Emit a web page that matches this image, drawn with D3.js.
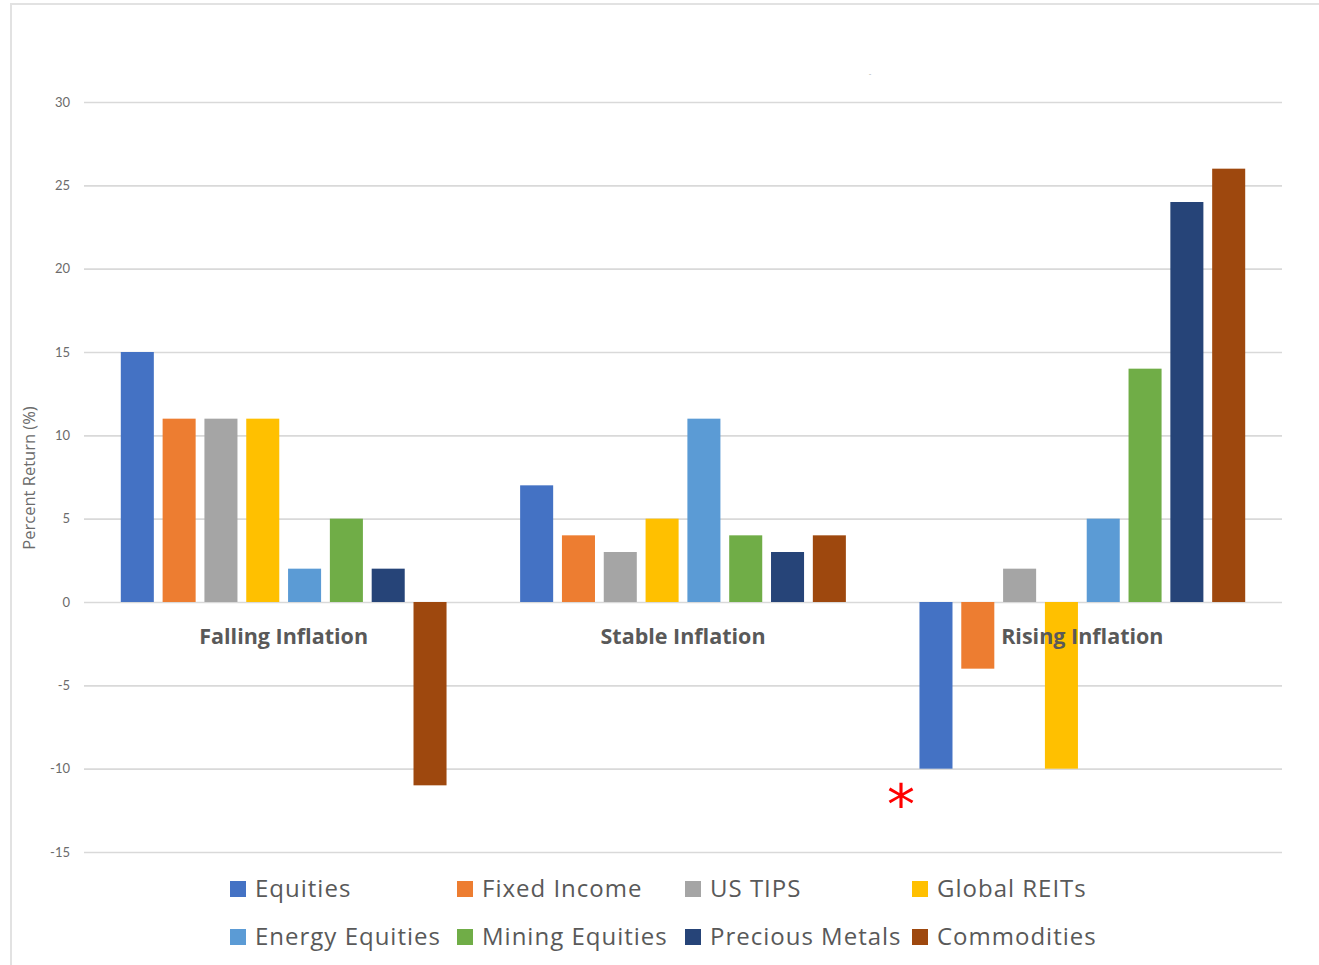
<!DOCTYPE html>
<html>
<head>
<meta charset="utf-8">
<script src="https://cdn.jsdelivr.net/npm/d3@7/dist/d3.min.js"></script>
<style>
  html, body { margin: 0; padding: 0; background: #fff; }
  svg { display: block; }
  text { font-family: "Open Sans", Lato, sans-serif; }
</style>
</head>
<body>
<svg id="chart" width="1319" height="965"></svg>
<script>
// Inflation regimes along the x axis
const regimes = ["Falling Inflation", "Stable Inflation", "Rising Inflation"];

// Asset classes, one bar per regime each
const assets = ["Equities", "Fixed Income", "US TIPS", "Global REITs",
                "Energy Equities", "Mining Equities", "Precious Metals", "Commodities"];
const assetColors = ["#4472C4", "#ED7D31", "#A5A5A5", "#FFC000",
                     "#5B9BD5", "#70AD47", "#264478", "#9E480E"];

// Percent return of each asset class, ordered by regime
const equities       = [15,  7, -10];
const fixedIncome    = [11,  4,  -4];
const usTips         = [11,  3,   2];
const globalReits    = [11,  5, -10];
const energyEquities = [ 2, 11,   5];
const miningEquities = [ 5,  4,  14];
const preciousMetals = [ 2,  3,  24];
const commodities    = [-11, 4,  26];

const yTicks = [30, 25, 20, 15, 10, 5, 0, -5, -10, -15];

const seriesValues = [equities, fixedIncome, usTips, globalReits,
                      energyEquities, miningEquities, preciousMetals, commodities];

const svg = d3.select("#chart");

// Outer frame (top and left edges)
svg.append("line").attr("x1", 10).attr("x2", 1319).attr("y1", 4).attr("y2", 4)
  .attr("stroke", "#e2e2e2").attr("stroke-width", 2);
svg.append("line").attr("x1", 11).attr("x2", 11).attr("y1", 3).attr("y2", 965)
  .attr("stroke", "#e2e2e2").attr("stroke-width", 2);

const plot = { left: 83, right: 1281, top: 102, bottom: 852 };

const y = d3.scaleLinear().domain([-15, 30]).range([plot.bottom, plot.top]);
const x0 = d3.scaleBand().domain(regimes).range([plot.left, plot.right])
  .paddingInner(0).paddingOuter(0);
const x1 = d3.scaleBand().domain(assets).range([0, x0.bandwidth()])
  .paddingInner(0.21).paddingOuter(0.88);
const color = d3.scaleOrdinal().domain(assets).range(assetColors);

// Horizontal gridlines and value labels
const yAxis = d3.axisLeft(y).tickValues(yTicks)
  .tickSize(-(plot.right - plot.left)).tickPadding(14).tickFormat(d => String(d));
const gy = svg.append("g").attr("transform", `translate(${plot.left + 1},0)`).call(yAxis);
gy.select(".domain").remove();
gy.selectAll(".tick line").attr("stroke", "#d9d9d9").attr("stroke-width", 1.6);
gy.selectAll(".tick text").style("fill", "#6b6b6b").style("font-size", "13px")
  .style("font-family", "Lato, 'Open Sans', sans-serif");

// Axis title
svg.append("text")
  .attr("transform", "translate(35,478) rotate(-90)")
  .attr("text-anchor", "middle")
  .style("font-size", "16.5px")
  .style("fill", "#6b6b6b")
  .text("Percent Return (%)");

// Bars
const rows = [];
regimes.forEach((r, i) => {
  assets.forEach((a, j) => rows.push({ regime: r, asset: a, value: seriesValues[j][i] }));
});

svg.append("g").attr("transform", "translate(1,0)")
  .selectAll("rect").data(rows).join("rect")
  .attr("x", d => x0(d.regime) + x1(d.asset))
  .attr("width", x1.bandwidth())
  .attr("y", d => y(Math.max(0, d.value)))
  .attr("height", d => Math.abs(y(d.value) - y(0)))
  .attr("fill", d => color(d.asset));

// Regime labels just below the zero line
svg.append("g").selectAll("text").data(regimes).join("text")
  .attr("x", d => x0(d) + x0.bandwidth() / 2 + 1)
  .attr("y", y(0) + 42)
  .attr("text-anchor", "middle")
  .style("font-size", "21.5px")
  .style("font-weight", "bold")
  .style("fill", "#595959")
  .text(d => d);

// Small mark above the plot
svg.append("text").attr("x", 870).attr("y", 76).attr("text-anchor", "middle")
  .style("font-size", "8px").style("fill", "#aaa").text("-");

// Red asterisk beneath the Rising Inflation equities bar
svg.append("text").attr("x", 901).attr("y", 824).attr("text-anchor", "middle")
  .style("font-size", "56px").style("font-family", "'DejaVu Sans', sans-serif")
  .style("fill", "#ff0000").text("*");

// Legend: two rows of four
const legendCols = [230, 457, 685, 912];
const legendRows = [889, 937];
const legend = svg.append("g").selectAll("g").data(assets).join("g")
  .attr("transform", (d, i) => `translate(${legendCols[i % 4]},${legendRows[Math.floor(i / 4)]})`);
legend.append("rect").attr("x", 0).attr("y", -8).attr("width", 16).attr("height", 16)
  .attr("fill", d => color(d));
legend.append("text").attr("x", 25).attr("y", 0).attr("dy", "0.35em")
  .style("font-size", "24px").style("letter-spacing", "1px")
  .style("fill", "#595959").text(d => d);
</script>
</body>
</html>
